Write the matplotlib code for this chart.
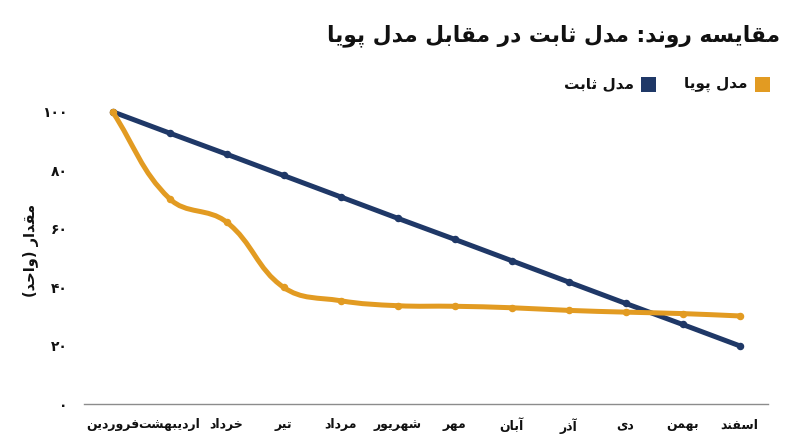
import numpy as np
import matplotlib
matplotlib.use("Agg")
import matplotlib.pyplot as plt
from matplotlib.path import Path
from matplotlib.patches import PathPatch, Rectangle

# داده‌ها
months = ["فروردین", "اردیبهشت", "خرداد", "تیر", "مرداد", "شهریور",
          "مهر", "آبان", "آذر", "دی", "بهمن", "اسفند"]
static_model = [100, 92.7, 85.5, 78.2, 70.9, 63.6, 56.4, 49.1, 41.8, 34.5, 27.3, 20]
dynamic_model = [100, 70.3, 62.3, 40, 35.4, 33.7, 33.5, 33.0, 32.1, 31.5, 31.0, 30.2]
y_ticks = [0, 20, 40, 60, 80, 100]

title_text = "مقایسه روند: مدل ثابت در مقابل مدل پویا"
ylabel_text = "مقدار (واحد)"
static_label = "مدل ثابت"
dynamic_label = "مدل پویا"

NAVY = "#1f3867"
ORANGE = "#e29b22"

# --- شکل‌دهی ساده‌ی حروف فارسی (matplotlib خودش این کار را نمی‌کند) ---
FORMS = {
    "ا": (0xFE8D, 0xFE8E, None, None),
    "آ": (0xFE81, 0xFE82, None, None),
    "ب": (0xFE8F, 0xFE90, 0xFE91, 0xFE92),
    "پ": (0xFB56, 0xFB57, 0xFB58, 0xFB59),
    "ت": (0xFE95, 0xFE96, 0xFE97, 0xFE98),
    "ث": (0xFE99, 0xFE9A, 0xFE9B, 0xFE9C),
    "ح": (0xFEA1, 0xFEA2, 0xFEA3, 0xFEA4),
    "خ": (0xFEA5, 0xFEA6, 0xFEA7, 0xFEA8),
    "د": (0xFEA9, 0xFEAA, None, None),
    "ذ": (0xFEAB, 0xFEAC, None, None),
    "ر": (0xFEAD, 0xFEAE, None, None),
    "س": (0xFEB1, 0xFEB2, 0xFEB3, 0xFEB4),
    "ش": (0xFEB5, 0xFEB6, 0xFEB7, 0xFEB8),
    "ف": (0xFED1, 0xFED2, 0xFED3, 0xFED4),
    "ق": (0xFED5, 0xFED6, 0xFED7, 0xFED8),
    "ل": (0xFEDD, 0xFEDE, 0xFEDF, 0xFEE0),
    "م": (0xFEE1, 0xFEE2, 0xFEE3, 0xFEE4),
    "ن": (0xFEE5, 0xFEE6, 0xFEE7, 0xFEE8),
    "ه": (0xFEE9, 0xFEEA, 0xFEEB, 0xFEEC),
    "و": (0xFEED, 0xFEEE, None, None),
    "ی": (0xFBFC, 0xFBFD, 0xFBFE, 0xFBFF),
}


def fa(text):
    out = []
    n = len(text)
    for i, ch in enumerate(text):
        if ch not in FORMS:
            out.append(ch)
            continue
        iso, fin, ini, med = FORMS[ch]
        prev = text[i - 1] if i > 0 else ""
        nxt = text[i + 1] if i < n - 1 else ""
        join_prev = prev in FORMS and FORMS[prev][2] is not None
        join_next = ini is not None and nxt in FORMS
        if join_prev and join_next:
            out.append(chr(med))
        elif join_prev:
            out.append(chr(fin))
        elif join_next:
            out.append(chr(ini))
        else:
            out.append(chr(iso))
    vis = "".join(reversed(out))
    return vis.translate(str.maketrans("()", ")("))


def fa_num(v):
    return str(v).translate(str.maketrans("0123456789", "۰۱۲۳۴۵۶۷۸۹"))


plt.rcParams["font.family"] = ["DejaVu Sans"]
plt.rcParams["font.weight"] = "bold"

W, H = 800, 447
fig = plt.figure(figsize=(W / 100, H / 100), dpi=100)
ax = fig.add_axes([84 / W, 1 - 404.3 / H, (768 - 84) / W, (404.3 - 111.7) / H])

x = np.arange(len(months))
ax.set_xlim(-0.5, len(months) - 0.5)
ax.set_ylim(0, 100)


def spline_path(xs, ys, tension=0.4):
    # منحنی بزیه مثل Chart.js، در فضای پیکسل
    pts = ax.transData.transform(np.column_stack([xs, ys]))
    n = len(pts)
    cp_in, cp_out = [], []
    for i in range(n):
        p0 = pts[max(i - 1, 0)]
        p1 = pts[i]
        p2 = pts[min(i + 1, n - 1)]
        d01 = np.hypot(*(p1 - p0))
        d12 = np.hypot(*(p2 - p1))
        tot = d01 + d12
        s01 = d01 / tot if tot else 0
        s12 = d12 / tot if tot else 0
        cp_in.append(p1 - tension * s01 * (p2 - p0))
        cp_out.append(p1 + tension * s12 * (p2 - p0))
    verts = [pts[0]]
    codes = [Path.MOVETO]
    for i in range(n - 1):
        verts += [cp_out[i], cp_in[i + 1], pts[i + 1]]
        codes += [Path.CURVE4] * 3
    verts = ax.transData.inverted().transform(np.array(verts))
    return Path(verts, codes)


ax.plot(x, static_model, color=NAVY, lw=3.6, solid_capstyle="round",
        marker="o", ms=4.4, zorder=2, clip_on=False)
ax.add_patch(PathPatch(spline_path(x, dynamic_model), fill=False,
                       edgecolor=ORANGE, lw=3.6, capstyle="round",
                       zorder=3, clip_on=False))
ax.plot(x, dynamic_model, "o", color=ORANGE, ms=4.4, zorder=3, clip_on=False)

for side in ["top", "right", "left"]:
    ax.spines[side].set_visible(False)
ax.spines["bottom"].set_color("#8c8c8c")
ax.spines["bottom"].set_linewidth(1.0)

ax.set_xticks(x)
ax.set_xticklabels([fa(m) for m in months], fontsize=9, fontweight="bold")
ax.set_yticks(y_ticks)
ax.set_yticklabels([fa_num(v) for v in y_ticks], fontsize=10, fontweight="bold")
ax.tick_params(axis="both", length=0, colors="#111111")
ax.tick_params(axis="x", pad=10)
ax.tick_params(axis="y", pad=12)

fig.text(31 / W, 1 - 250 / H, fa(ylabel_text), rotation=90, ha="center",
         va="center", fontsize=10.5, fontweight="bold", color="#111111")

fig.text(780 / W, 1 - 36 / H, fa(title_text), ha="right", va="center",
         fontsize=15.7, fontweight="bold", color="#111111")

# راهنما (راست به چپ)
legend_items = [(dynamic_label, ORANGE, 755), (static_label, NAVY, 641)]
for label, col, sx in legend_items:
    fig.add_artist(Rectangle((sx / W, 1 - 91.5 / H), 15 / W, 15 / H,
                             transform=fig.transFigure, facecolor=col,
                             edgecolor="none"))
    fig.text((sx - 7) / W, 1 - 84 / H, fa(label), ha="right", va="center",
             fontsize=11, fontweight="bold", color="#111111")

fig.savefig("out.png", dpi=100, facecolor="white")
